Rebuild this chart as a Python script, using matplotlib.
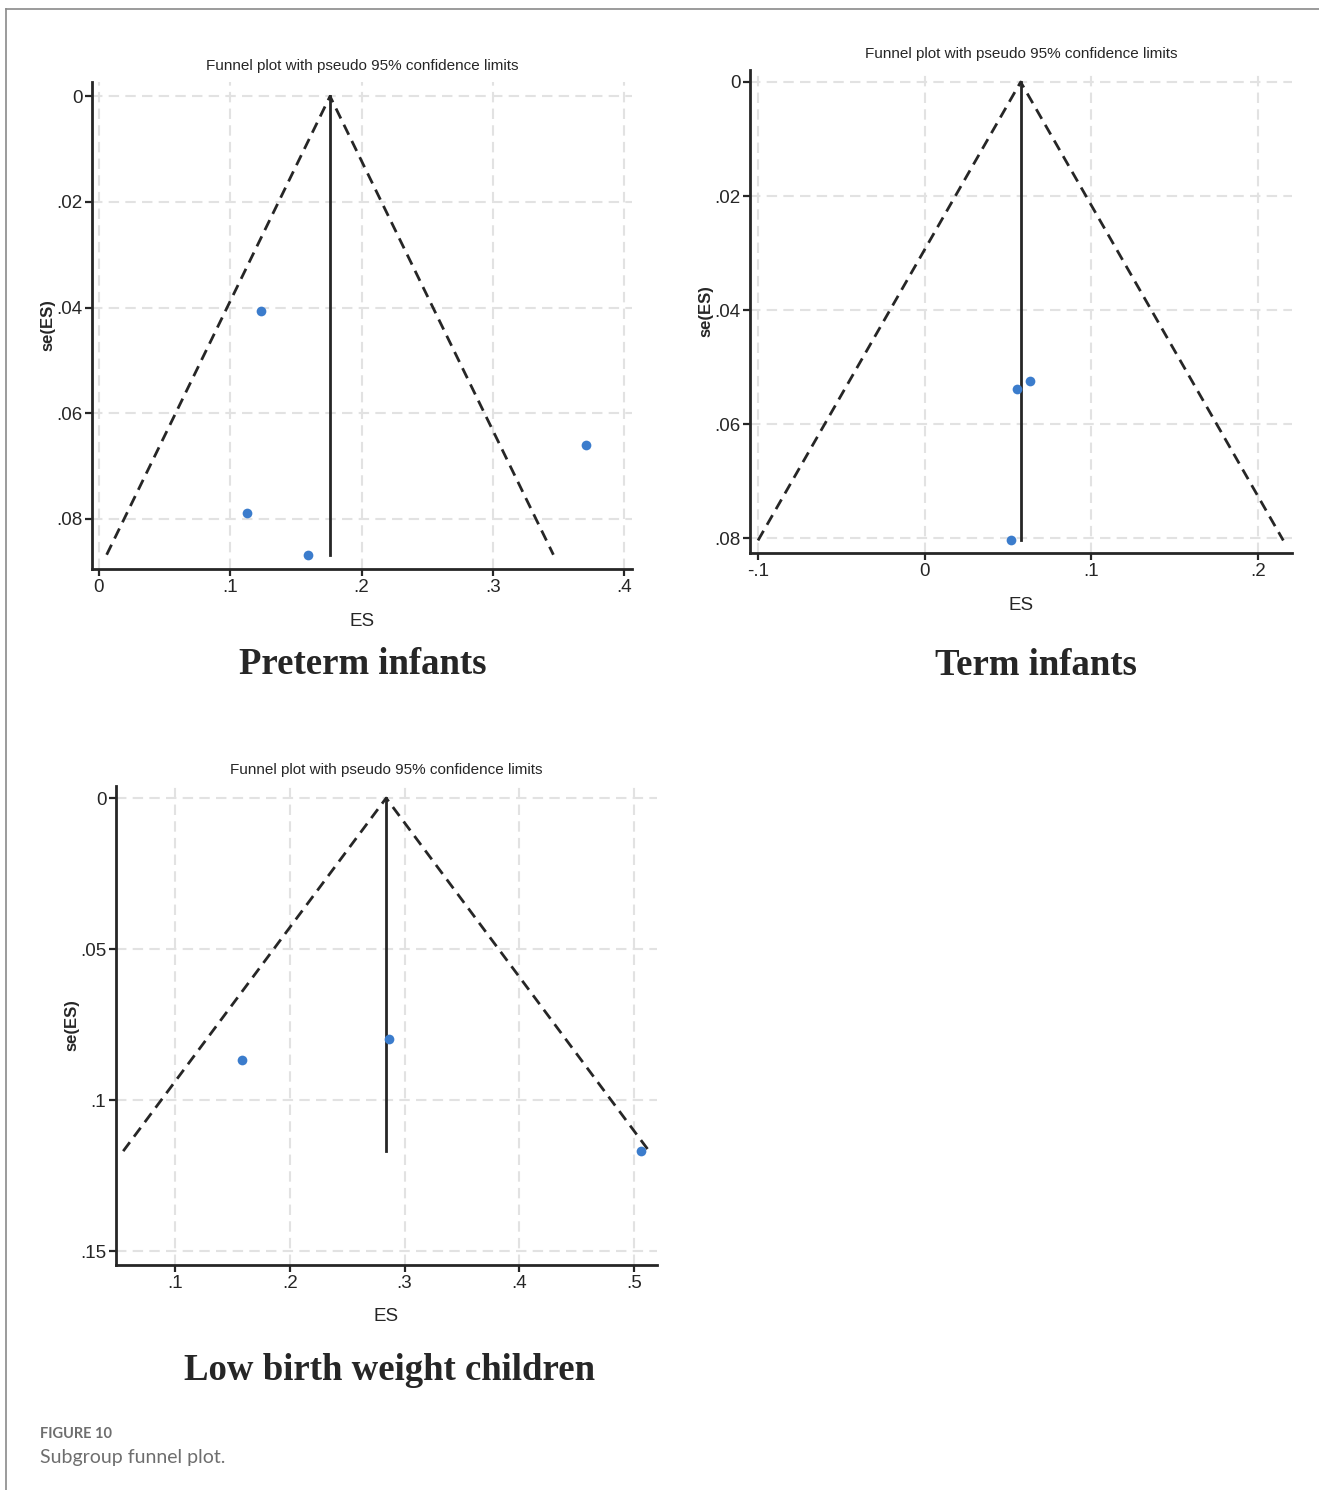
import matplotlib
matplotlib.use('Agg')
import matplotlib.pyplot as plt
from matplotlib.lines import Line2D

# ---- data ----
pre_es = [0.1234, 0.371, 0.1128, 0.159]
pre_se = [0.0407, 0.066, 0.0789, 0.0868]
pre_theta = 0.176
pre_xticks = [0, 0.1, 0.2, 0.3, 0.4]
pre_xlabels = ['0', '.1', '.2', '.3', '.4']
pre_yticks = [0, 0.02, 0.04, 0.06, 0.08]
pre_ylabels = ['0', '.02', '.04', '.06', '.08']

term_es = [0.0552, 0.063, 0.0516]
term_se = [0.0539, 0.0525, 0.0804]
term_theta = 0.0576
term_xticks = [-0.1, 0, 0.1, 0.2]
term_xlabels = ['-.1', '0', '.1', '.2']
term_yticks = [0, 0.02, 0.04, 0.06, 0.08]
term_ylabels = ['0', '.02', '.04', '.06', '.08']

lbw_es = [0.1584, 0.2866, 0.506]
lbw_se = [0.0868, 0.0798, 0.1169]
lbw_theta = 0.284
lbw_xticks = [0.1, 0.2, 0.3, 0.4, 0.5]
lbw_xlabels = ['.1', '.2', '.3', '.4', '.5']
lbw_yticks = [0, 0.05, 0.1, 0.15]
lbw_ylabels = ['0', '.05', '.1', '.15']

W, H = 1319, 1490
SANS = ['Liberation Sans', 'DejaVu Sans']
DOT = '#3b7ccc'
INK = '#262626'


def px_rect(l, t, r, b):
    return [l / W, 1 - b / H, (r - l) / W, (b - t) / H]


def funnel(fig, rect, es, se, theta, xlim, ylim, xt, xl, yt, yl, sub, sub_xy):
    ax = fig.add_axes(rect)
    se_max = max(se)
    # pseudo 95% limits: theta +/- 1.96 * se
    ax.plot([theta - 1.96 * se_max, theta, theta + 1.96 * se_max], [se_max, 0, se_max],
            ls=(0, (4, 2.5)), color=INK, lw=2, zorder=3)
    ax.plot([theta, theta], [0, se_max], color=INK, lw=2, zorder=3)
    ax.plot(es, se, 'o', color=DOT, ms=7, mec='none', zorder=4)
    ax.set_xlim(*xlim)
    ax.set_ylim(*ylim)
    ax.set_xticks(xt)
    ax.set_xticklabels(xl)
    ax.set_yticks(yt)
    ax.set_yticklabels(yl)
    for lab in ax.get_xticklabels() + ax.get_yticklabels():
        lab.set_family(SANS)
        lab.set_fontsize(13.5)
        lab.set_color(INK)
    ax.tick_params(direction='out', length=5, width=1.6, color=INK, pad=2)
    ax.grid(True, ls=(0, (5, 3)), color='#e2e2e2', lw=1.5)
    ax.set_axisbelow(True)
    for s in ['top', 'right']:
        ax.spines[s].set_visible(False)
    for s in ['left', 'bottom']:
        ax.spines[s].set_linewidth(2)
        ax.spines[s].set_color(INK)
    ax.text(0.5, 1.033, 'Funnel plot with pseudo 95% confidence limits', transform=ax.transAxes,
            ha='center', va='center', family=SANS, fontsize=11, color=INK)
    ax.text(-0.081, 0.5, 'se(ES)', transform=ax.transAxes, rotation=90, ha='center', va='center',
            family=SANS, fontsize=12, fontweight='bold', color=INK)
    ax.text(0.5, -0.108, 'ES', transform=ax.transAxes, ha='center', va='center',
            family=SANS, fontsize=13.5, color=INK)
    fig.text(sub_xy[0] / W, 1 - sub_xy[1] / H, sub, ha='center', va='center',
             family='Liberation Serif', fontweight='bold', fontsize=26.5, color=INK)
    return ax


fig = plt.figure(figsize=(W / 100, H / 100), dpi=100)

funnel(fig, px_rect(92, 82, 632, 569), pre_es, pre_se, pre_theta,
       (-0.0053, 0.406), (0.0895, -0.0027), pre_xticks, pre_xlabels, pre_yticks, pre_ylabels,
       'Preterm infants', (363, 664))
funnel(fig, px_rect(750, 70, 1292, 553), term_es, term_se, term_theta,
       (-0.1048, 0.2204), (0.0826, -0.0021), term_xticks, term_xlabels, term_yticks, term_ylabels,
       'Term infants', (1036, 665))
funnel(fig, px_rect(116, 786, 657, 1265), lbw_es, lbw_se, lbw_theta,
       (0.0486, 0.52), (0.1546, -0.004), lbw_xticks, lbw_xlabels, lbw_yticks, lbw_ylabels,
       'Low birth weight children', (389, 1370))

# page frame
fig.add_artist(Line2D([6 / W, 1], [1 - 9 / H, 1 - 9 / H], color='#8a8a8a', lw=1.2))
fig.add_artist(Line2D([6 / W, 6 / W], [0, 1 - 9 / H], color='#8a8a8a', lw=1.2))

fig.text(40 / W, 1 - 1434 / H, 'FIGURE 10', family='Lato', fontweight='bold', fontsize=10.5,
         color='#6e6e6e', ha='left', va='center')
fig.text(40 / W, 1 - 1458 / H, 'Subgroup funnel plot.', family='Lato', fontsize=14,
         color='#6e6e6e', ha='left', va='center')

fig.savefig('out.png', dpi=100)
